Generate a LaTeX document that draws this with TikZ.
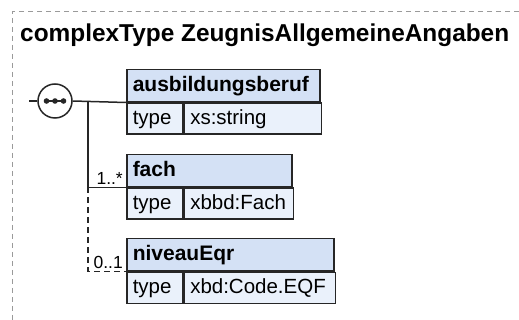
\documentclass[tikz,border=0pt]{standalone}
\usepackage{fontspec}
\setmainfont{Liberation Sans}
\usepackage{xcolor}
\usetikzlibrary{positioning, calc}

\definecolor{hdrblue}{HTML}{D4E1F5}
\definecolor{rowblue}{HTML}{EAF1FB}
\definecolor{framegray}{HTML}{9A9A9A}

\tikzset{
  hdr/.style={draw=black!85, line width=1.5pt, fill=hdrblue, anchor=north west,
    minimum height=32pt, inner xsep=6pt, inner ysep=0pt, align=left,
    text height=15pt, text depth=4pt, font=\fontsize{21}{23}\selectfont\bfseries},
  cell/.style={draw=black!85, line width=1.5pt, fill=rowblue, anchor=north west,
    minimum height=31pt, inner xsep=6pt, inner ysep=0pt, align=left,
    text height=15pt, text depth=4pt, font=\fontsize{20.5}{22}\selectfont},
  mult/.style={anchor=base east, inner sep=0pt, font=\fontsize{17.5}{19}\selectfont},
  conn/.style={line width=1.5pt, black!85},
  dashconn/.style={conn, dash pattern=on 6pt off 4pt},
}

\begin{document}
\begin{tikzpicture}[x=1pt, y=-1pt]
\useasboundingbox (0,0) rectangle (519,320);
% outer frame
\draw[framegray, line width=1pt, dash pattern=on 5pt off 4pt] (519,12) -- (12,12) -- (12,320);
\node[anchor=base west, inner sep=0pt, font=\fontsize{24.4}{28}\selectfont\bfseries] (title) at (20,42) {complexType ZeugnisAllgemeineAngaben};
% ausbildungsberuf
\node[hdr, text width=181pt] (ausb) at (126,69) {ausbildungsberuf};
\node[cell, text width=44pt] (ausbT) at (ausb.south west) {type};
\node[cell, text width=125pt] (ausbV) at (ausbT.north east) {xs:string};
% fach
\node[hdr, text width=153pt] (fach) at (126,154) {fach};
\node[cell, text width=44pt] (fachT) at (fach.south west) {type};
\node[cell, text width=97pt] (fachV) at (fachT.north east) {xbbd:Fach};
% niveauEqr
\node[hdr, text width=195pt] (niv) at (126,238) {niveauEqr};
\node[cell, text width=44pt] (nivT) at (niv.south west) {type};
\node[cell, text width=139pt] (nivV) at (nivT.north east) {xbd:Code.EQF};
% sequence compositor
\coordinate (in) at (29,101);
\node[circle, draw=black!85, line width=1.5pt, fill=white, minimum size=34pt, inner sep=0pt] (seq) at (55,101) {};
\foreach \dx in {-8.5,0,8.5} \fill[black!85] ($(seq.center)+(\dx,0)$) circle (2.8pt);
\draw[conn, line width=2pt] ($(seq.center)+(-8.5,0)$) -- ($(seq.center)+(8.5,0)$);
\coordinate (tr) at (88,101);
\draw[conn] (in) -- (seq.west);
\draw[conn] (seq.east) -- (ausb.south west);
\draw[conn] (tr) -- (tr |- fach.south west) -- (fach.south west);
\draw[dashconn] (tr |- fach.south west) -- (tr |- niv.south west) -- (niv.south west);
% multiplicities
\node[mult] (m1) at ($(fach.south west)+(-3,-3)$) {1..*};
\node[mult] (m2) at ($(niv.south west)+(-3,-3)$) {0..1};
\end{tikzpicture}
\end{document}
